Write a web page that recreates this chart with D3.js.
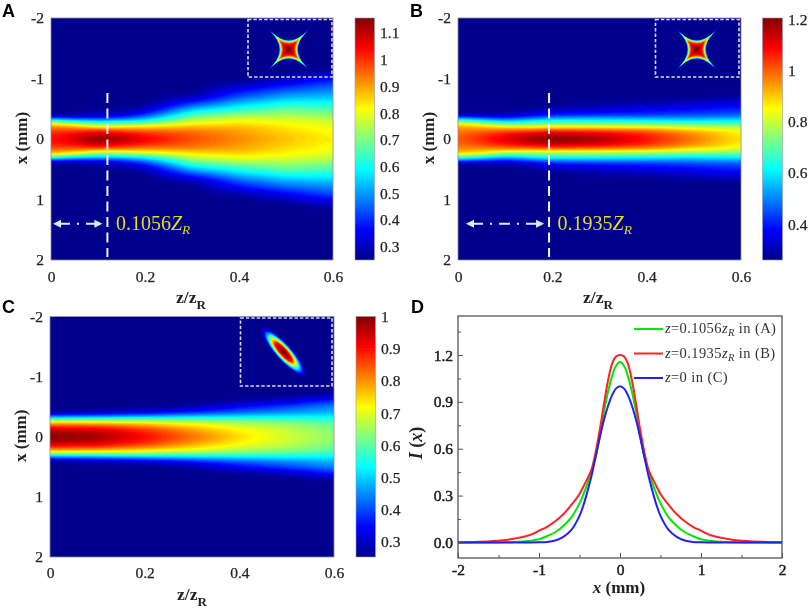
<!DOCTYPE html>
<html><head><meta charset="utf-8">
<script src="https://cdn.jsdelivr.net/npm/d3@7"></script>
<style>html,body{margin:0;background:#fff}svg{display:block}text{font-family:"Liberation Serif",serif;fill:#222}</style>
</head><body><svg id="c" width="809" height="611" xmlns="http://www.w3.org/2000/svg"></svg>
<script>
// ---------- data ----------
const jetStops=[0,0.125,0.375,0.625,0.875,1];
const jetColors=["#00008c","#0000ff","#00ffff","#ffff00","#ff0000","#800000"];

const xStops=[0,.05,.1,.15,.2,.25,.3,.35,.4,.5,.6,.7,.8,.9,1,1.1,1.2];
const zStopsAB=[0,.05,.1,.15,.2,.3,.4,.5,.6];
const zStopsC=[0,.1,.2,.3,.4,.5,.6];

const mapA=[
[1.03,1.03,1.01,.98,.93,.85,.65,.42,.27,.25,.25,.25,.25,.25,.25,.25,.25],
[1.08,1.07,1.03,.98,.90,.76,.58,.38,.27,.25,.25,.25,.25,.25,.25,.25,.25],
[1.156,1.13,1.08,.99,.81,.68,.55,.38,.31,.26,.25,.25,.25,.25,.25,.25,.25],
[1.12,1.09,1.04,.96,.83,.70,.56,.42,.33,.26,.25,.25,.25,.25,.25,.25,.25],
[1.06,1.04,1.00,.94,.85,.73,.60,.50,.41,.30,.25,.25,.25,.25,.25,.25,.25],
[.98,.97,.96,.93,.88,.83,.77,.72,.66,.53,.40,.29,.25,.25,.25,.25,.25],
[.93,.92,.91,.90,.88,.85,.82,.77,.72,.62,.53,.44,.37,.29,.25,.25,.25],
[.87,.87,.86,.85,.84,.82,.80,.77,.74,.68,.60,.52,.45,.37,.30,.25,.25],
[.83,.83,.82,.81,.80,.79,.77,.75,.71,.66,.60,.54,.49,.44,.37,.30,.25]];
const mapB=[
[1.00,1.00,.99,.97,.94,.87,.70,.50,.30,.26,.26,.26,.26,.26,.26,.26,.26],
[1.06,1.05,1.02,.97,.92,.80,.62,.45,.30,.26,.26,.26,.26,.26,.26,.26,.26],
[1.12,1.10,1.06,.99,.86,.70,.55,.41,.31,.26,.26,.26,.26,.26,.26,.26,.26],
[1.18,1.15,1.09,1.00,.84,.72,.60,.46,.35,.27,.26,.26,.26,.26,.26,.26,.26],
[1.205,1.18,1.12,1.02,.85,.74,.64,.52,.40,.30,.26,.26,.26,.26,.26,.26,.26],
[1.17,1.15,1.10,1.00,.85,.74,.63,.53,.42,.33,.28,.26,.26,.26,.26,.26,.26],
[1.08,1.07,1.04,.97,.84,.72,.62,.52,.43,.36,.29,.26,.26,.26,.26,.26,.26],
[.98,.97,.95,.89,.80,.70,.60,.52,.45,.38,.32,.27,.26,.26,.26,.26,.26],
[.87,.87,.86,.83,.78,.70,.62,.54,.47,.41,.35,.28,.26,.26,.26,.26,.26]];
const mapC=[
[1.00,.99,.96,.91,.83,.72,.56,.40,.27,.253,.253,.253,.253,.253,.253,.253,.253],
[.98,.97,.94,.90,.82,.71,.57,.42,.30,.253,.253,.253,.253,.253,.253,.253,.253],
[.91,.90,.88,.84,.78,.70,.58,.45,.33,.255,.253,.253,.253,.253,.253,.253,.253],
[.83,.82,.80,.77,.73,.67,.58,.48,.38,.28,.253,.253,.253,.253,.253,.253,.253],
[.75,.74,.73,.71,.68,.64,.58,.50,.43,.35,.27,.253,.253,.253,.253,.253,.253],
[.69,.69,.68,.67,.65,.62,.57,.52,.46,.40,.31,.255,.253,.253,.253,.253,.253],
[.64,.64,.63,.62,.61,.59,.56,.52,.49,.45,.38,.28,.253,.253,.253,.253,.253]];

// inset A/B star: colour-bar fraction, tip offset on the diagonal, half width on the axis
const starLevels=[.02,.125,.25,.375,.5,.625,.75,.875,.94,1];
const starTip=[25,22,19,16.5,14,11.5,9,6.8,4,1.5];
const starMid=[9.5,9.2,8.8,8.3,7.8,7.2,6.5,5.3,3.5,1.5];
// inset C ellipse: colour-bar fraction, long and short half axis
const ellipseLevels=[.02,.06,.125,.25,.375,.5,.625,.75,.875,.94,1];
const ellipseLong=[33,31,28,25,22,19.5,17,14.5,12,8,3];
const ellipseShort=[8,7.6,7.2,6.6,6,5.3,4.6,3.9,3.2,2.2,1];

// panel D: half-profiles (x >= 0), the curves are symmetric
const profileX=[0,.05,.1,.15,.2,.25,.3,.35,.4,.45,.5,.6,.7,.8,.9,1,1.1,1.2,1.3,1.4,1.5,1.6,1.8,2];
const profileA=[1.155,1.13,1.06,.96,.83,.68,.55,.46,.38,.31,.25,.16,.105,.065,.04,.02,.01,.005,.002,.001,0,0,0,0];
const profileB=[1.2,1.19,1.14,1.03,.88,.72,.58,.47,.41,.36,.31,.24,.18,.135,.10,.075,.05,.035,.025,.016,.011,.007,.003,.001];
const profileC=[1,.985,.94,.87,.78,.67,.55,.43,.33,.24,.17,.08,.035,.012,.003,.001,0,0,0,0,0,0,0,0];

const zTicks=[0,.2,.4,.6], xTicks=[-2,-1,0,1,2];
const barTicksA=[.3,.4,.5,.6,.7,.8,.9,1,1.1];
const barTicksB=[.4,.6,.8,1,1.2];
const barTicksC=[.3,.4,.5,.6,.7,.8,.9,1];
const dYTicks=[0,.3,.6,.9,1.2];
const legendNames=["0.1056","0.1935","0"];
const legendTails=[" in (A)"," in (B)"," in (C)"];
const legendColors=["#00e600","#ff2020","#2222ee"];

// ---------- drawing ----------
const svg=d3.select("#c");
const defs=svg.append("defs");
const soft=defs.append("filter").attr("id","soft").attr("filterUnits","userSpaceOnUse").attr("x",0).attr("y",0).attr("width",809).attr("height",611);
soft.append("feGaussianBlur").attr("stdDeviation",0.45);
const root=svg.append("g").attr("filter","url(#soft)");

const fmt=v=>String(v);
const jet=(d0,d1)=>d3.scaleLinear().domain(jetStops.map(t=>d0+t*(d1-d0))).range(jetColors).clamp(true);
const jetT=d3.scaleLinear().domain(jetStops).range(jetColors).clamp(true);
const ink=a=>a.selectAll("text").attr("font-size",15.5).attr("font-family","Liberation Serif").attr("font-weight",400).attr("fill","#222").attr("stroke","#222").attr("stroke-width",.25);

function text(g,x,y,s,o={}){const t=g.append("text").attr("x",x).attr("y",y).text(s);
  for(const k in o)t.attr(k,o[k]);return t;}

function heat(p,i){
  const g=root.append("g");
  const x=d3.scaleLinear().domain([0,.6]).range([p.x0,p.x1]);
  const y=d3.scaleLinear().domain([-2,2]).range([p.y0,p.y1]);
  const color=jet(p.dom[0],p.dom[1]);
  const W=142,H=242;
  const zi=d3.scaleLinear().domain(p.zs).range(p.zs.map((_,k)=>k)).clamp(true);
  const xi=d3.scaleLinear().domain(xStops).range(xStops.map((_,k)=>k)).clamp(true);
  const vals=new Float64Array(W*H);
  for(let r=0;r<H;r++)for(let c=0;c<W;c++){
    const xv=Math.abs(-2+4*(r+.5)/H), zv=.6*(c+.5)/W;
    const a=zi(zv),b=xi(xv);
    const a0=Math.floor(a),a1=Math.min(a0+1,p.zs.length-1),b0=Math.floor(b),b1=Math.min(b0+1,xStops.length-1);
    const fa=a-a0,fb=b-b0,m=p.map;
    vals[r*W+c]=(m[a0][b0]*(1-fb)+m[a0][b1]*fb)*(1-fa)+(m[a1][b0]*(1-fb)+m[a1][b1]*fb)*fa;
  }
  if(d3.blur2)d3.blur2({data:vals,width:W,height:H},2.2,1);
  const clip="clip"+i;
  defs.append("clipPath").attr("id",clip).append("rect").attr("x",p.x0).attr("y",p.y0).attr("width",p.x1-p.x0).attr("height",p.y1-p.y0);
  const body=g.append("g").attr("clip-path",`url(#${clip})`);
  body.append("rect").attr("x",p.x0).attr("y",p.y0).attr("width",p.x1-p.x0).attr("height",p.y1-p.y0).attr("fill",color(p.dom[0]));
  const th=d3.range(p.dom[0]+.008,p.dom[1]+.01,(p.dom[1]-p.dom[0])/96);
  const path=d3.geoPath();
  const cg=body.append("g").attr("transform",`translate(${p.x0},${p.y0}) scale(${(p.x1-p.x0)/W},${(p.y1-p.y0)/H})`);
  cg.selectAll("path").data(d3.contours().size([W,H]).thresholds(th)(Array.from(vals))).join("path")
    .attr("d",path).attr("fill",d=>color(d.value));

  // inset
  const q=p.inset, fine=d3.range(.02,1.001,.02);
  if(q.kind==="star"){
    const tip=d3.scaleLinear().domain(starLevels).range(starTip);
    const mid=d3.scaleLinear().domain(starLevels).range(starMid);
    const sg=body.append("g").attr("transform",`translate(${q.cx},${q.cy})`);
    sg.selectAll("path").data(fine).join("path").attr("fill",d=>jetT(d)).attr("d",t=>{
      const d=tip(t),k=2*mid(t)-d;
      return `M${d},${-d}Q${k},0 ${d},${d}Q0,${k} ${-d},${d}Q${-k},0 ${-d},${-d}Q0,${-k} ${d},${-d}Z`;
    });
  } else {
    const lo=d3.scaleLinear().domain(ellipseLevels).range(ellipseLong);
    const sh=d3.scaleLinear().domain(ellipseLevels).range(ellipseShort);
    const eg=body.append("g").attr("transform",`translate(${q.cx},${q.cy}) rotate(${q.angle})`);
    eg.selectAll("ellipse").data(fine).join("ellipse").attr("rx",d=>lo(d)).attr("ry",d=>sh(d)).attr("fill",d=>jetT(d));
  }
  g.append("rect").attr("x",q.x0).attr("y",q.y0).attr("width",q.x1-q.x0).attr("height",q.y1-q.y0)
    .attr("fill","none").attr("stroke","#dcdcdc").attr("stroke-width",1.6).attr("stroke-dasharray","3.4 2");
  g.append("rect").attr("x",p.x0).attr("y",p.y0).attr("width",p.x1-p.x0).attr("height",p.y1-p.y0)
    .attr("fill","none").attr("stroke","#8a8aa0").attr("stroke-width",.8);

  // axes
  const ax=g.append("g").attr("transform",`translate(0,${p.y1})`).call(d3.axisBottom(x).tickValues(zTicks).tickFormat(fmt).tickSize(0).tickPadding(p.xpad));
  const ay=g.append("g").attr("transform",`translate(${p.x0},0)`).call(d3.axisLeft(y).tickValues(xTicks).tickFormat(fmt).tickSize(0).tickPadding(7));
  [ax,ay].forEach(a=>{a.select(".domain").remove();ink(a);});
  const lab=text(g,p.xl,p.y1+43,"z/z",{"font-size":17.5,"font-weight":700,"text-anchor":"middle"});
  lab.append("tspan").attr("dy",6).attr("font-size",13).text("R");
  text(g,0,0,"x (mm)",{"font-size":17,"font-weight":700,"text-anchor":"middle",transform:`translate(${p.x0-24},${(p.y0+p.y1)/2-1}) rotate(-90)`});

  // colour bar
  const gid="grad"+i;
  const lg=defs.append("linearGradient").attr("id",gid).attr("x1",0).attr("y1",1).attr("x2",0).attr("y2",0);
  lg.selectAll("stop").data(jetStops).join("stop").attr("offset",d=>d).attr("stop-color",(d,k)=>jetColors[k]);
  g.append("rect").attr("x",p.bx).attr("y",p.y0).attr("width",p.bw).attr("height",p.y1-p.y0).attr("fill",`url(#${gid})`).attr("stroke","#9a9aa8").attr("stroke-width",.6);
  const by=d3.scaleLinear().domain(p.dom).range([p.y1,p.y0]);
  const bax=g.append("g").attr("transform",`translate(${p.bx+p.bw},0)`).call(d3.axisRight(by).tickValues(p.bt).tickFormat(fmt).tickSize(0).tickPadding(5.5));
  bax.select(".domain").remove();
  ink(bax);

  // marker
  if(p.mark!==undefined){
    const mx=x(p.mark);
    g.append("line").attr("x1",mx).attr("x2",mx).attr("y1",y(-.76)).attr("y2",y(1.95)).attr("stroke","#f2f2f2").attr("stroke-width",2).attr("stroke-dasharray","10 5.5");
    const ya=y(1.4),ac="#d6efe6";
    g.append("line").attr("x1",p.ax0+6).attr("x2",mx-10).attr("y1",ya).attr("y2",ya).attr("stroke",ac).attr("stroke-width",2).attr("stroke-dasharray","11 7 2 7");
    g.append("path").attr("d",`M${p.ax0},${ya}l8,-4v8z`).attr("fill",ac);
    g.append("path").attr("d",`M${mx-5},${ya}l-8,-4v8z`).attr("fill",ac);
    const t=text(g,mx+8.5,ya+6,p.markText,{"font-size":20,style:"fill:#e3dc1c"});
    t.append("tspan").attr("font-style","italic").text("Z");
    t.append("tspan").attr("font-style","italic").attr("dy",4).attr("font-size",13.5).text("R");
  }
}

const panels=[
 {map:mapA,zs:zStopsAB,dom:[.25,1.156],x0:51,x1:333,y0:18,y1:260,bx:355,bw:19.5,bt:barTicksA,xl:191,xpad:11,mark:.12,ax0:53,markText:"0.1056",
  inset:{kind:"star",x0:248,x1:332,y0:19.5,y1:77,cx:288.7,cy:49.5}},
 {map:mapB,zs:zStopsAB,dom:[.26,1.205],x0:458,x1:741,y0:18,y1:260,bx:762.5,bw:20,bt:barTicksB,xl:598,xpad:11,mark:.193,ax0:466,markText:"0.1935",
  inset:{kind:"star",x0:655.5,x1:739,y0:19.5,y1:77,cx:696.7,cy:49.5}},
 {map:mapC,zs:zStopsC,dom:[.253,1],x0:50,x1:334,y0:316.5,y1:557,bx:356,bw:19.5,bt:barTicksC,xl:192,xpad:10,
  inset:{kind:"ellipse",x0:240.5,x1:332,y0:318,y1:386,cx:283.5,cy:352,angle:48}}
];
panels.forEach(heat);

// panel D
(function(){
  const g=root.append("g");
  const L=458,R=782,T=316,B=558;
  const x=d3.scaleLinear().domain([-2,2]).range([L,R]);
  const y=d3.scaleLinear().domain([-.1,1.45]).range([B,T]);
  const line=d3.line().x(d=>x(d[0])).y(d=>y(d[1])).curve(d3.curveCatmullRom);
  const sym=v=>{const a=[];for(let k=profileX.length-1;k>0;k--)a.push([-profileX[k],v[k]]);profileX.forEach((px,k)=>a.push([px,v[k]]));return a;};
  [profileA,profileB,profileC].forEach((v,k)=>{
    g.append("path").attr("d",line(sym(v))).attr("fill","none").attr("stroke",legendColors[k]).attr("stroke-width",2);
  });
  g.append("rect").attr("x",L).attr("y",T).attr("width",R-L).attr("height",B-T).attr("fill","none").attr("stroke","#555").attr("stroke-width",1.3);
  const bot=g.append("g").attr("transform",`translate(0,${B})`).call(d3.axisBottom(x).tickValues(xTicks).tickFormat(fmt).tickSize(-5).tickPadding(6));
  g.append("g").attr("transform",`translate(0,${B})`).call(d3.axisBottom(x).tickValues(d3.range(-1.5,2,1)).tickFormat("").tickSize(-3));
  const lef=g.append("g").attr("transform",`translate(${L},0)`).call(d3.axisLeft(y).tickValues(dYTicks).tickFormat(d3.format(".1f")).tickSize(-5).tickPadding(5));
  g.append("g").attr("transform",`translate(${L},0)`).call(d3.axisLeft(y).tickValues(d3.range(.15,1.4,.3)).tickFormat("").tickSize(-3));
  g.selectAll(".domain").remove();
  g.selectAll(".tick line").attr("stroke","#555").attr("stroke-width",1);
  [bot,lef].forEach(a=>{ink(a);a.selectAll("text").attr("stroke-width",.45).attr("fill","#111").attr("stroke","#111");});
  legendNames.forEach((n,k)=>{
    const ly=329+k*24.5;
    g.append("line").attr("x1",634).attr("x2",663).attr("y1",ly).attr("y2",ly).attr("stroke",legendColors[k]).attr("stroke-width",2);
    const t=text(g,665,ly+4,"",{"font-size":14.5,"font-weight":400,"letter-spacing":.4,style:"fill:#333"});
    t.append("tspan").attr("font-style","italic").text("z");
    t.append("tspan").text("="+n);
    if(n!=="0"){
      t.append("tspan").attr("font-style","italic").text("z");
      t.append("tspan").attr("font-style","italic").attr("font-size",10.5).attr("dy",3).text("R");
      t.append("tspan").attr("dy",-3).text(legendTails[k]);
    } else t.append("tspan").text(legendTails[k]);
  });
  const xl=text(g,619,593,"",{"font-size":17,"font-weight":700,"text-anchor":"middle"});
  xl.append("tspan").attr("font-style","italic").text("x");xl.append("tspan").text(" (mm)");
  const yl=text(g,0,0,"",{"font-size":18,"font-weight":700,"text-anchor":"middle",transform:`translate(422,443) rotate(-90)`});
  yl.append("tspan").attr("font-style","italic").text("I");yl.append("tspan").text(" (");yl.append("tspan").attr("font-style","italic").text("x");yl.append("tspan").text(")");
})();

// panel letters
[["A",2,17],["B",410,17],["C",2,313],["D",411,313]].forEach(d=>{
  root.append("text").attr("x",d[1]).attr("y",d[2]).text(d[0]).attr("font-size",18).attr("font-weight",700).style("font-family","'Liberation Sans',Arial,sans-serif").style("fill","#000");
});
</script></body></html>
